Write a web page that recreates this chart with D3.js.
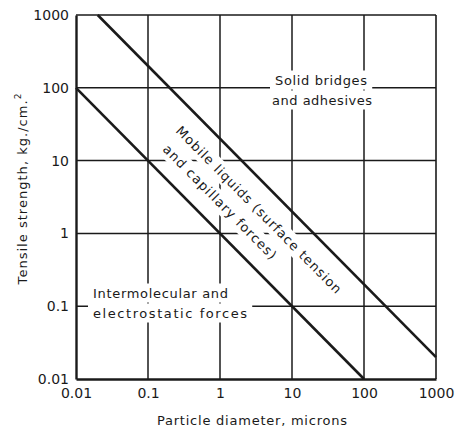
<!DOCTYPE html>
<html><head><meta charset="utf-8">
<script src="https://cdn.jsdelivr.net/npm/d3@7"></script>
<style>
body{margin:0;background:#fff;}
text{font-family:"DejaVu Sans",sans-serif;fill:#1a1a1a;}
</style></head>
<body><svg id="c" width="455" height="433"></svg>
<script>
const xTicks = [0.01, 0.1, 1, 10, 100, 1000];
const xTickLabels = ["0.01", "0.1", "1", "10", "100", "1000"];
const yTicks = [0.01, 0.1, 1, 10, 100, 1000];
const yTickLabels = ["0.01", "0.1", "1", "10", "100", "1000"];
const lowerLine = [[0.01, 100], [100, 0.01]];
const upperLine = [[0.02, 1000], [1000, 0.02]];
const xTitle = "Particle diameter, microns";
const yTitle = "Tensile strength, kg./cm.";

const svg = d3.select("#c");
const L = 76, R = 436, T = 15, B = 379;
const x = d3.scaleLog().domain([0.01, 1000]).range([L, R]);
const y = d3.scaleLog().domain([0.01, 1000]).range([B, T]);
const ink = "#1a1a1a";

// grid
const g = svg.append("g");
g.selectAll(".vx").data(xTicks.slice(1, -1)).join("line")
  .attr("x1", d => x(d)).attr("x2", d => x(d)).attr("y1", T).attr("y2", B)
  .attr("stroke", ink).attr("stroke-width", 1.5);
g.selectAll(".hy").data(yTicks.slice(1, -1)).join("line")
  .attr("y1", d => y(d)).attr("y2", d => y(d)).attr("x1", L).attr("x2", R)
  .attr("stroke", ink).attr("stroke-width", 1.5);

// labels with white masks
function label(t, cx, cy, len, rot, baseline) {
  const grp = svg.append("g").attr("transform", `translate(${cx},${cy}) rotate(${rot||0})`);
  const txt = grp.append("text").attr("x", 0).attr("y", 0)
    .attr("text-anchor", "middle").attr("font-size", 13).text(t);
  if (baseline) txt.attr("dominant-baseline", baseline);
  if (len) txt.attr("textLength", len).attr("lengthAdjust", "spacing");
  const bb = txt.node().getBBox();
  grp.insert("rect", "text").attr("x", bb.x - 5).attr("y", bb.y - 2)
    .attr("width", bb.width + 10).attr("height", bb.height + 4).attr("fill", "#fff");
  return grp;
}
label("Solid bridges", 321, 80, 92, 0, "central");
label("and adhesives", 322, 100, 100, 0, "central");
label("Intermolecular and", 93 + 135 / 2, 293, 135, 0, "central");
label("electrostatic forces", 93 + 154 / 2, 313, 154, 0, "central");

// rotated labels placed relative to lower line
const ox = x(1), oy = y(1);
const dx = x(10) - x(1), dy = y(1) - y(10);
const dl = Math.hypot(dx, dy);
const u = [dx / dl, dy / dl];          // along the line (down-right)
const n = [dy / dl, -dx / dl];         // normal (up-right)
const ang = Math.atan2(dy, dx) * 180 / Math.PI;
function at(along, perp) { return [ox + along * u[0] + perp * n[0], oy + along * u[1] + perp * n[1]]; }
let p1 = at(10.5, 39.6), p2 = at(-22.5, 17.4);
label("Mobile liquids (surface tension", p1[0], p1[1], 229, ang, null);
label("and capillary forces)", p2[0], p2[1], 155, ang, null);

// diagonal lines
const line = d3.line().x(d => x(d[0])).y(d => y(d[1]));
[lowerLine, upperLine].forEach(dat => {
  svg.append("path").datum(dat).attr("d", line).attr("fill", "none")
    .attr("stroke", ink).attr("stroke-width", 2.6);
});

// frame
svg.append("line").attr("x1", L).attr("x2", R).attr("y1", T).attr("y2", T).attr("stroke", ink).attr("stroke-width", 1.6);
svg.append("line").attr("x1", R).attr("x2", R).attr("y1", T).attr("y2", B).attr("stroke", ink).attr("stroke-width", 1.6);

// axes
const xAxis = d3.axisBottom(x).tickValues(xTicks).tickFormat((d, i) => xTickLabels[i]).tickSize(0).tickPadding(9);
const yAxis = d3.axisLeft(y).tickValues(yTicks).tickFormat((d, i) => yTickLabels[i]).tickSize(0).tickPadding(7);
const gx = svg.append("g").attr("transform", `translate(0,${B})`).call(xAxis);
const gy = svg.append("g").attr("transform", `translate(${L},0)`).call(yAxis);
[gx, gy].forEach(a => {
  a.select(".domain").attr("stroke", ink).attr("stroke-width", 2.4);
  a.selectAll("text").attr("font-size", 14).attr("font-family", "DejaVu Sans").attr("fill", ink);
});

// titles
svg.append("text").attr("x", 252).attr("y", 425).attr("text-anchor", "middle")
  .attr("font-size", 13).attr("textLength", 190).attr("lengthAdjust", "spacing").text(xTitle);
const yt = svg.append("text").attr("transform", "translate(27,189) rotate(-90)")
  .attr("text-anchor", "middle").attr("font-size", 13);
yt.append("tspan").attr("textLength", 184).attr("lengthAdjust", "spacing").text(yTitle);
yt.append("tspan").attr("dy", -6).attr("font-size", 9).text("2");
</script></body></html>
